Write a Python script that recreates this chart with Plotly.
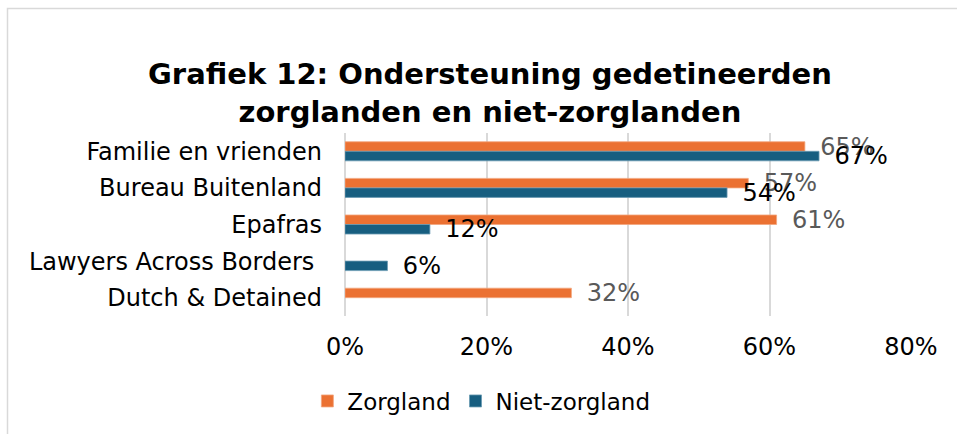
import plotly.graph_objects as go

categories = ["Familie en vrienden", "Bureau Buitenland", "Epafras", "Lawyers Across Borders ", "Dutch & Detained"]
zorgland = [65, 57, 61, None, 32]
niet_zorgland = [67, 54, 12, 6, None]
series_names = ["Zorgland", "Niet-zorgland"]
tick_vals = [0, 20, 40, 60, 80]
tick_text = ["0%", "20%", "40%", "60%", "80%"]

FONT = "Verdana, DejaVu Sans, sans-serif"
ORANGE = "#EB7132"
BLUE = "#175E80"

def labels(vals):
    return ["" if v is None else "\u00a0\u2009%d%%" % v for v in vals]

fig = go.Figure()
fig.add_trace(go.Bar(
    y=categories, x=zorgland, name=series_names[0], orientation="h",
    marker=dict(color=ORANGE, line=dict(color="#F3A67E", width=0.8)),
    text=labels(zorgland), textposition="outside", constraintext="none",
    textfont=dict(family=FONT, size=24, color="#595959"), cliponaxis=False,
))
fig.add_trace(go.Bar(
    y=categories, x=niet_zorgland, name=series_names[1], orientation="h",
    marker=dict(color=BLUE, line=dict(color="#6A9BB3", width=0.8)),
    text=labels(niet_zorgland), textposition="outside", constraintext="none",
    textfont=dict(family=FONT, size=24, color="#000000"), cliponaxis=False,
))

fig.update_layout(
    width=957, height=434,
    margin=dict(l=345, r=46, t=133, b=118),
    paper_bgcolor="white", plot_bgcolor="white",
    barmode="group", bargap=0.48, bargroupgap=0,
    font=dict(family=FONT, size=22, color="#000000"),
    title=dict(
        text="<b>Grafiek 12: Ondersteuning gedetineerden<br>zorglanden en niet-zorglanden</b>",
        x=0.512, xanchor="center", xref="container",
        y=1 - 84 / 434, yanchor="middle", yref="container",
        font=dict(family=FONT, size=29, color="#000000"),
    ),
    xaxis=dict(
        range=[0, 80], tickvals=tick_vals, ticktext=tick_text,
        showgrid=True, gridcolor="#D9D9D9", gridwidth=1.5,
        zeroline=True, zerolinecolor="#D9D9D9", zerolinewidth=1.5,
        showline=False, ticks="", tickfont=dict(size=24), fixedrange=True,
        ticklabelstandoff=14,
    ),
    yaxis=dict(
        autorange="reversed", showgrid=False, ticks="", showline=False,
        tickfont=dict(size=24), ticklabelstandoff=22, fixedrange=True,
    ),
    legend=dict(
        orientation="h", xref="container", yref="container",
        x=0.503, xanchor="center", y=1 - 401 / 434, yanchor="middle",
        font=dict(size=23), traceorder="normal", itemwidth=30,
    ),
    showlegend=True,
    shapes=[dict(
        type="rect", xref="paper", yref="paper",
        x0=(7.5 - 345) / 566, x1=2.0, y0=-2.0, y1=(316 - 8.5) / 183,
        line=dict(color="#D9D9D9", width=1.5), fillcolor="rgba(0,0,0,0)", layer="below",
    )],
)

fig.write_html(
    "out.html",
    config={"displayModeBar": False},
    post_script="document.body.style.margin='0';document.body.style.overflow='hidden';",
)
